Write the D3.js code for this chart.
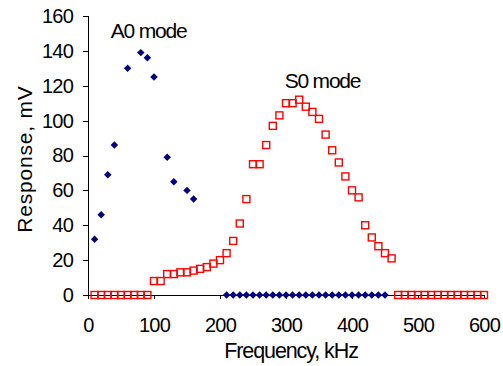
<!DOCTYPE html>
<html>
<head>
<meta charset="utf-8">
<script src="https://cdn.jsdelivr.net/npm/d3@7"></script>
<style>
  body { margin: 0; background: #fff; }
  svg text { font-family: Arial, "Liberation Sans", sans-serif; fill: #000; }
  .axis path, .axis line { stroke: #000; shape-rendering: crispEdges; }
</style>
</head>
<body>
<svg id="figure"></svg>
<script>
// A0 mode (blue diamonds)
const a0Freq = [10, 20, 30, 40, 60, 80, 90, 100, 120, 130, 150, 160,
    210, 220, 230, 240, 250, 260, 270, 280, 290, 300, 310, 320, 330,
    340, 350, 360, 370, 380, 390, 400, 410, 420, 430, 440, 450];
const a0Resp = [32, 46, 69, 86, 130, 139, 136, 125, 79, 65, 60, 55,
    0, 0, 0, 0, 0, 0, 0, 0, 0, 0, 0, 0, 0,
    0, 0, 0, 0, 0, 0, 0, 0, 0, 0, 0, 0];

// S0 mode (red open squares)
const s0Freq = [10, 20, 30, 40, 50, 60, 70, 80, 90,
    100, 110, 120, 130, 140, 150, 160, 170, 180, 190, 200, 210, 220, 230,
    240, 250, 260, 270, 280, 290, 300, 310, 320, 330, 340, 350, 360, 370,
    380, 390, 400, 410, 420, 430, 440, 450, 460,
    470, 480, 490, 500, 510, 520, 530, 540, 550, 560, 570, 580, 590, 600];
const s0Resp = [0, 0, 0, 0, 0, 0, 0, 0, 0,
    8, 8, 12, 12, 13, 13, 14, 15, 16, 18, 20, 24, 31, 41,
    55, 75, 75, 86, 97, 103, 110, 110, 112, 108, 105, 101, 92, 83,
    76, 68, 60, 56, 40, 33, 28, 24, 21,
    0, 0, 0, 0, 0, 0, 0, 0, 0, 0, 0, 0, 0, 0];

const xTicks = [0, 100, 200, 300, 400, 500, 600];
const yTicks = [0, 20, 40, 60, 80, 100, 120, 140, 160];

const margin = {top: 16, right: 19, bottom: 71, left: 88};
const width = 503 - margin.left - margin.right;
const height = 366 - margin.top - margin.bottom;

const svg = d3.select("#figure")
    .attr("width", 503)
    .attr("height", 366);

const g = svg.append("g")
    .attr("transform", "translate(" + margin.left + "," + margin.top + ")");

const x = d3.scaleLinear().domain([0, 600]).range([0, width]);
const y = d3.scaleLinear().domain([0, 160]).range([height, 0]);

// axes
g.append("g")
    .attr("class", "axis y-axis")
    .call(d3.axisLeft(y).tickValues(yTicks).tickSize(5).tickPadding(10))
    .call(a => a.select(".domain").attr("d", "M0.5," + y(160) + "V" + y(0)));

g.append("g")
    .attr("class", "axis x-axis")
    .attr("transform", "translate(0," + y(0) + ")")
    .call(d3.axisBottom(x).tickValues(xTicks).tickSize(4).tickPadding(19))
    .call(a => a.select(".domain").attr("d", "M0," + 0.5 + "H" + width));

g.selectAll(".axis").attr("font-size", null).attr("font-family", null);
g.selectAll(".axis .tick text")
    .style("font-size", "20px")
    .style("letter-spacing", "-0.8px");

// S0 squares
const sq = 7;
g.append("g").selectAll("rect")
    .data(s0Freq.map((f, i) => [f, s0Resp[i]]))
    .join("rect")
    .attr("x", d => x(d[0]) - sq / 2)
    .attr("y", d => y(d[1]) - sq / 2)
    .attr("width", sq)
    .attr("height", sq)
    .attr("fill", "none")
    .attr("stroke", "#ff0000")
    .attr("stroke-width", 1.4);

// A0 diamonds
const diamond = d3.symbol().type(d3.symbolSquare).size(28);
g.append("g").selectAll("path")
    .data(a0Freq.map((f, i) => [f, a0Resp[i]]))
    .join("path")
    .attr("d", diamond)
    .attr("transform", d => "translate(" + x(d[0]) + "," + y(d[1]) + ") rotate(45)")
    .attr("fill", "#000080");

// labels
g.append("text")
    .attr("x", x(34.5))
    .attr("y", y(147.5))
    .style("font-size", "21px")
    .style("letter-spacing", "-1.2px")
    .text("A0 mode");

g.append("text")
    .attr("x", x(298))
    .attr("y", y(118.7))
    .style("font-size", "21px")
    .style("letter-spacing", "-1.2px")
    .text("S0 mode");

svg.append("text")
    .attr("x", 291)
    .attr("y", 358)
    .attr("text-anchor", "middle")
    .style("font-size", "21.5px")
    .style("letter-spacing", "-1.1px")
    .text("Frequency, kHz");

svg.append("text")
    .attr("transform", "translate(31.5,159) rotate(-90)")
    .attr("text-anchor", "middle")
    .style("font-size", "21px")
    .style("letter-spacing", "0.8px")
    .text("Response, mV");
</script>
</body>
</html>
